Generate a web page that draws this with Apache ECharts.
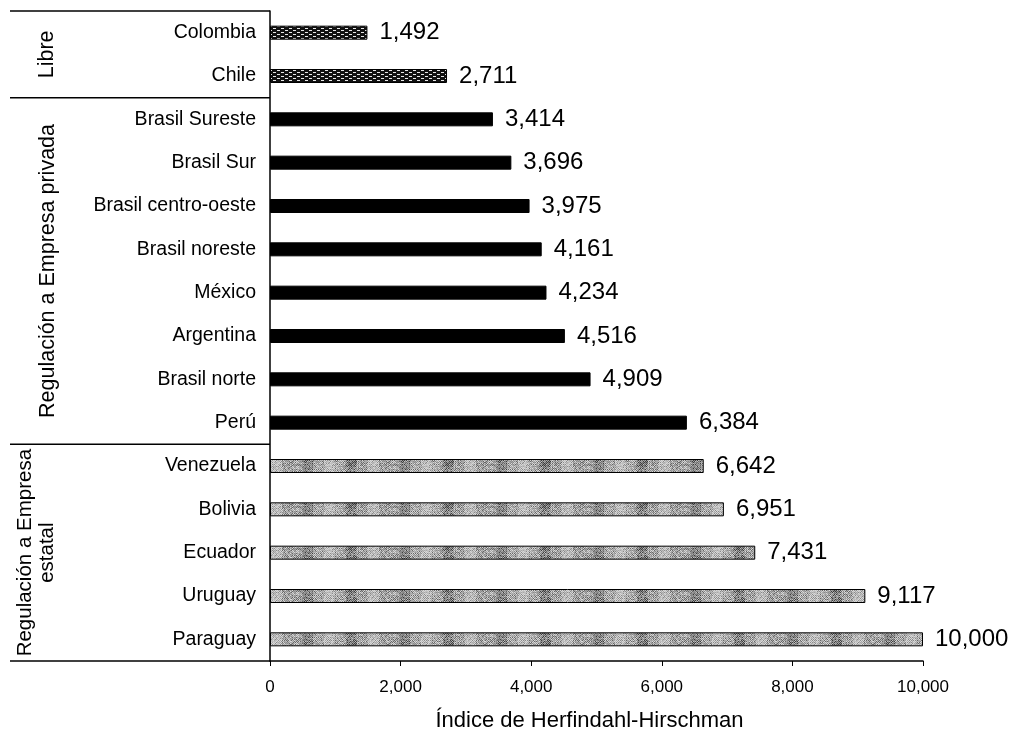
<!DOCTYPE html>
<html>
<head>
<meta charset="utf-8">
<script src="https://cdn.jsdelivr.net/npm/echarts@6/dist/echarts.min.js"></script>
<style>
  html, body { margin: 0; padding: 0; background: #fff; }
  #chart { width: 1014px; height: 732px; }
</style>
</head>
<body>
<div id="chart"></div>
<script>
// Herfindahl-Hirschman index by market, top to bottom
const categories = ['Colombia', 'Chile', 'Brasil Sureste', 'Brasil Sur', 'Brasil centro-oeste',
  'Brasil noreste', 'México', 'Argentina', 'Brasil norte', 'Perú',
  'Venezuela', 'Bolivia', 'Ecuador', 'Uruguay', 'Paraguay'];
const values = [1492, 2711, 3414, 3696, 3975, 4161, 4234, 4516, 4909, 6384,
  6642, 6951, 7431, 9117, 10000];
// Regulatory groups and how many consecutive categories each spans
const groupNames = ['Libre', 'Regulación a Empresa privada', 'Regulación a Empresa\nestatal'];
const groupSizes = [2, 8, 5];
const xTicks = [0, 2000, 4000, 6000, 8000, 10000];

const FONT = '"Liberation Sans", Arial, sans-serif';

// Fill patterns for each group
function dashPattern() {
  const c = document.createElement('canvas');
  c.width = 8; c.height = 4;
  const g = c.getContext('2d');
  g.fillStyle = '#111'; g.fillRect(0, 0, 8, 4);
  g.fillStyle = '#e8e8e8';
  g.fillRect(1, 0, 3, 1);
  g.fillRect(5, 2, 3, 1);
  return c;
}
// Halftone-like grey texture (deterministic hash per pixel)
function greyPattern() {
  const W = 97, H = 14;
  const c = document.createElement('canvas');
  c.width = W; c.height = H;
  const g = c.getContext('2d');
  const tones = ['#3c3c3c', '#666666', '#8a8a8a', '#a6a6a6', '#bfbfbf', '#d8d8d8'];
  for (let y = 0; y < H; y++) {
    for (let x = 0; x < W; x++) {
      let h = (x * 374761393 + y * 668265263) | 0;
      h = Math.imul(h ^ (h >>> 13), 1274126177);
      h = (h ^ (h >>> 16)) >>> 0;
      const seg = Math.floor(x / 11) % 4;
      const shift = seg === 1 ? -1 : (seg === 3 ? 1 : 0);
      const idx = ((x + y) % 2 === 0 ? 1 : 3) + (h % 3) + shift;
      g.fillStyle = tones[Math.max(0, Math.min(tones.length - 1, idx))];
      g.fillRect(x, y, 1, 1);
    }
  }
  return c;
}
const fills = [
  { image: dashPattern(), repeat: 'repeat' },
  '#000',
  { image: greyPattern(), repeat: 'repeat' }
];

const groupOf = [];
groupSizes.forEach((n, gi) => { for (let i = 0; i < n; i++) groupOf.push(gi); });

const data = values.map((v, i) => ({
  value: v,
  itemStyle: { color: fills[groupOf[i]], borderColor: '#000', borderWidth: 1 }
}));

const chart = echarts.init(document.getElementById('chart'), null, { renderer: 'canvas' });
const grid = { left: 270, right: 91, top: 11, bottom: 71, containLabel: false, outerBoundsMode: 'none' };

chart.setOption({
  animation: false,
  backgroundColor: '#fff',
  grid: grid,
  xAxis: {
    type: 'value',
    min: 0, max: 10000, interval: 2000,
    name: 'Índice de Herfindahl-Hirschman',
    nameLocation: 'middle',
    nameGap: 49,
    nameTextStyle: { fontFamily: FONT, fontSize: 22, color: '#000', padding: [0, 14, 0, 0] },
    axisLine: { show: true, lineStyle: { color: '#000', width: 1.5 } },
    axisTick: { show: true, length: 5, lineStyle: { color: '#000' } },
    axisLabel: {
      fontFamily: FONT, fontSize: 17, color: '#000', margin: 18,
      formatter: v => xTicks.includes(v) ? v.toLocaleString('en-US') : ''
    },
    splitLine: { show: false }
  },
  yAxis: {
    type: 'category',
    data: categories,
    inverse: true,
    axisLine: { show: true, lineStyle: { color: '#000', width: 1.5 } },
    axisTick: { show: false },
    axisLabel: { fontFamily: FONT, fontSize: 19.5, color: '#000', margin: 14 }
  },
  series: [{
    type: 'bar',
    data: data,
    barWidth: 14,
    label: {
      show: true,
      position: 'right',
      distance: 12,
      fontFamily: FONT,
      fontSize: 24,
      color: '#000',
      formatter: p => p.value.toLocaleString('en-US')
    }
  }]
});

// Group brackets: horizontal rules at group boundaries and rotated group titles
const titleX = [47, 48, 36];
const titleSize = [21.5, 21.5, 20.5];
const xAxisPx = chart.convertToPixel({ gridIndex: 0 }, [0, 0])[0];
const band = (chart.convertToPixel({ yAxisIndex: 0 }, categories[1]) -
              chart.convertToPixel({ yAxisIndex: 0 }, categories[0]));
const firstY = chart.convertToPixel({ yAxisIndex: 0 }, categories[0]);
const graphics = [];
let start = 0;
const edgeY = idx => firstY + (idx - 0.5) * band;
graphics.push({ type: 'line', shape: { x1: 10, y1: edgeY(0), x2: xAxisPx, y2: edgeY(0) },
  style: { stroke: '#000', lineWidth: 1.5 } });
groupSizes.forEach((n, gi) => {
  const yTop = edgeY(start), yBot = edgeY(start + n);
  graphics.push({ type: 'line', shape: { x1: 10, y1: yBot, x2: xAxisPx, y2: yBot },
    style: { stroke: '#000', lineWidth: 1.5 } });
  graphics.push({
    type: 'text',
    x: titleX[gi], y: (yTop + yBot) / 2,
    rotation: Math.PI / 2,
    style: {
      text: groupNames[gi], fontFamily: FONT, fontSize: titleSize[gi], fill: '#000',
      align: 'center', verticalAlign: 'middle', lineHeight: 22
    }
  });
  start += n;
});
chart.setOption({ graphic: graphics });
</script>
</body>
</html>
